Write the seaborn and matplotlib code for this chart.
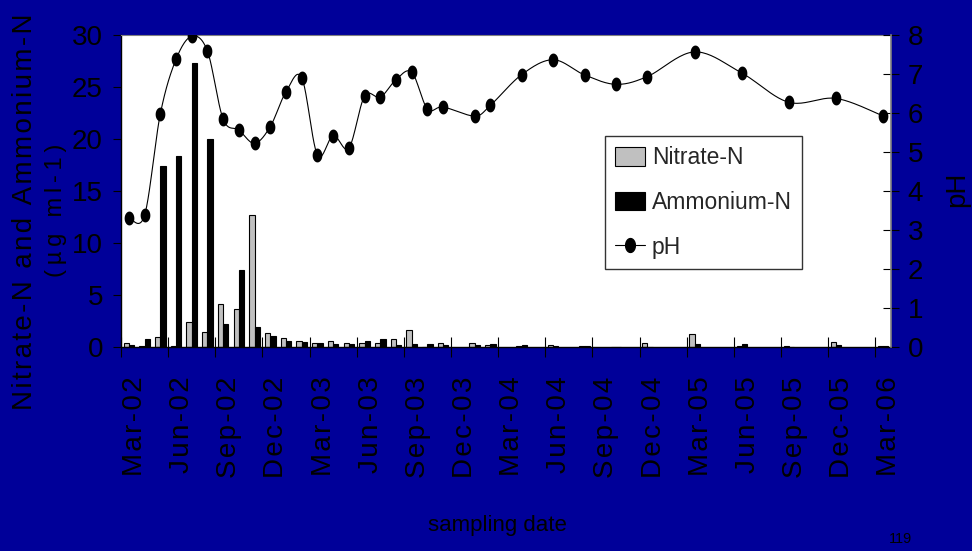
import numpy as np
import pandas as pd
import matplotlib
matplotlib.use("Agg")
import matplotlib.pyplot as plt
import matplotlib.transforms as mtransforms
from matplotlib.patches import Patch
from matplotlib.lines import Line2D
from matplotlib.path import Path
from matplotlib.markers import MarkerStyle
import seaborn as sns

# sampling months (monthly at first, later every 2-3 months)
sample_month = ["2002-03", "2002-04", "2002-05", "2002-06", "2002-07", "2002-08",
                "2002-09", "2002-10", "2002-11", "2002-12", "2003-01", "2003-02",
                "2003-03", "2003-04", "2003-05", "2003-06", "2003-07", "2003-08",
                "2003-09", "2003-10", "2003-11", "2004-01", "2004-02", "2004-04",
                "2004-06", "2004-08", "2004-10", "2004-12", "2005-03", "2005-06",
                "2005-09", "2005-12", "2006-03"]

# ug ml-1
nitrate = [0.38, 0.1, 1.0, 0.15, 2.4, 1.45, 4.15, 3.7, 12.65, 1.4, 0.9, 0.6,
           0.45, 0.65, 0.45, 0.45, 0.4, 0.75, 1.7, 0.05, 0.45, 0.45, 0.2, 0.1,
           0.25, 0.15, 0.0, 0.45, 1.25, 0.1, 0.15, 0.5, 0.1]
ammonium = [0.2, 0.8, 17.4, 18.4, 27.3, 20.0, 2.25, 7.4, 1.95, 1.05, 0.6, 0.55,
            0.4, 0.3, 0.3, 0.6, 0.75, 0.2, 0.35, 0.3, 0.2, 0.2, 0.3, 0.2,
            0.1, 0.1, 0.0, 0.05, 0.35, 0.35, 0.05, 0.25, 0.1]
ph = [3.32, 3.38, 5.97, 7.37, 7.96, 7.58, 5.84, 5.56, 5.22, 5.65, 6.54, 6.90,
      4.92, 5.42, 5.10, 6.43, 6.40, 6.85, 7.04, 6.10, 6.15, 5.92, 6.19, 6.98,
      7.36, 6.97, 6.73, 6.93, 7.56, 7.02, 6.27, 6.37, 5.92]

tick_labels = ["Mar-02", "Jun-02", "Sep-02", "Dec-02", "Mar-03", "Jun-03",
               "Sep-03", "Dec-03", "Mar-04", "Jun-04", "Sep-04", "Dec-04",
               "Mar-05", "Jun-05", "Sep-05", "Dec-05", "Mar-06"]

BLUE = "#000099"
GREY = "#C0C0C0"


def spaced(s, sep="\u200a"):
    # letter spaced text like on the slide
    return sep.join(s)


def smooth(x, y, steps=24):
    # bezier through the points, same idea as the "smoothed line" option
    x = np.asarray(x, float)
    y = np.asarray(y, float)
    n = len(x)
    t = np.linspace(0, 1, steps)
    xs, ys = [], []
    for i in range(n - 1):
        a = max(i - 1, 0)
        b = min(i + 2, n - 1)
        c1x = x[i] + (x[i + 1] - x[a]) / 6
        c1y = y[i] + (y[i + 1] - y[a]) / 6
        c2x = x[i + 1] - (x[b] - x[i]) / 6
        c2y = y[i + 1] - (y[b] - y[i]) / 6
        xs.append((1 - t) ** 3 * x[i] + 3 * (1 - t) ** 2 * t * c1x + 3 * (1 - t) * t ** 2 * c2x + t ** 3 * x[i + 1])
        ys.append((1 - t) ** 3 * y[i] + 3 * (1 - t) ** 2 * t * c1y + 3 * (1 - t) * t ** 2 * c2y + t ** 3 * y[i + 1])
    return np.concatenate(xs), np.concatenate(ys)


sns.set_style("ticks")
plt.rcParams["font.family"] = ["Liberation Sans", "DejaVu Sans"]

df = pd.DataFrame({"month": pd.to_datetime(sample_month),
                   "Nitrate-N": nitrate, "Ammonium-N": ammonium, "pH": ph})
# month slots counted from Mar-02, values sit in the middle of the slot
df["pos"] = (df["month"].dt.year - 2002) * 12 + (df["month"].dt.month - 3) + 0.5
long_df = df.melt(id_vars="pos", value_vars=["Nitrate-N", "Ammonium-N"],
                  var_name="series", value_name="conc")

fig = plt.figure(figsize=(9.72, 5.51), dpi=100, facecolor=BLUE)
ax = fig.add_axes([0.1245, 0.3697, 0.7922, 0.5673])
ax.set_facecolor("white")

sns.barplot(data=long_df, x="pos", y="conc", hue="series",
            hue_order=["Nitrate-N", "Ammonium-N"],
            palette={"Nitrate-N": GREY, "Ammonium-N": "black"},
            native_scale=True, dodge=True, width=2 / 3, saturation=1,
            errorbar=None, edgecolor="black", linewidth=0.8, legend=False, ax=ax)

ax.set_xlim(0, 49)
ax.set_ylim(0, 30)
ax.set_yticks(np.arange(0, 31, 5))
ax.set_xticks(np.arange(0, 49, 3))
ax.set_xticklabels([spaced(s) for s in tick_labels])
ax.set_xlabel("")
ax.set_ylabel("")
ax.tick_params(axis="y", direction="out", length=6, width=0.8, pad=7,
               labelsize=20, colors="black")
ax.tick_params(axis="x", direction="inout", length=14, width=0.8, pad=14,
               labelsize=20, labelrotation=90, colors="black")
# labels sit a bit right of their tick
shift = mtransforms.ScaledTranslation(0.14, 0, fig.dpi_scale_trans)
for lab in ax.get_xticklabels():
    lab.set_transform(lab.get_transform() + shift)

ax2 = ax.twinx()
sx, sy = smooth(df["pos"], df["pH"])
ax2.plot(sx, sy, color="black", lw=0.8, zorder=2)

theta = np.linspace(0, 2 * np.pi, 41)
ell = MarkerStyle(Path(np.column_stack([0.7 * np.cos(theta), np.sin(theta)]), closed=True))
sns.scatterplot(x=df["pos"], y=df["pH"], marker=ell, s=100, color="black",
                edgecolor="black", linewidth=0, ax=ax2, zorder=3)
ax2.set_ylim(0, 8)
ax2.set_yticks(np.arange(0, 9, 1))
ax2.set_xlabel("")
ax2.set_ylabel("")
ax2.tick_params(axis="y", direction="inout", length=11, width=0.8, pad=6.5,
                labelsize=20, colors="black")

for sp in ["left", "bottom"]:
    ax.spines[sp].set_color("black")
    ax.spines[sp].set_linewidth(1)
ax.spines["top"].set_color("#808080")
ax.spines["right"].set_visible(False)
for sp in ["left", "bottom", "top"]:
    ax2.spines[sp].set_visible(False)
ax2.spines["right"].set_color("#808080")
ax2.spines["right"].set_linewidth(1.2)

handles = [Patch(facecolor=GREY, edgecolor="black", lw=0.8),
           Patch(facecolor="black", edgecolor="black", lw=0.8),
           Line2D([], [], color="black", lw=0.8, marker=ell, markersize=10)]
leg = ax2.legend(handles, ["Nitrate-N", "Ammonium-N", "pH"],
                 loc="upper left", bbox_to_anchor=(605 / 972, 1 - 136 / 551),
                 bbox_transform=fig.transFigure, fontsize=16.5, frameon=True,
                 fancybox=False, framealpha=1, edgecolor="#333333",
                 borderpad=0.45, borderaxespad=0, labelspacing=0.95,
                 handlelength=1.3, handleheight=0.85, handletextpad=0.3)
leg.get_frame().set_linewidth(1)

fig.text(25 / 972, 1 - 212 / 551, spaced("Nitrate-N and Ammonium-N"),
         rotation=90, fontsize=20, ha="center", va="center", color="black")
fig.text(56 / 972, 1 - 210 / 551, spaced("(µg ml-1)", "\u2009"),
         rotation=90, fontsize=17, ha="center", va="center", color="black")
fig.text(957 / 972, 1 - 189 / 551, "pH", rotation=90, fontsize=20,
         ha="center", va="center", color="black")
fig.text(497 / 972, 1 - 526 / 551, "sampling date", fontsize=16,
         ha="center", va="center", color="black")
fig.text(900 / 972, 1 - 539 / 551, "119", fontsize=10.5,
         ha="center", va="center", color="black")

fig.savefig("out.png", dpi=100, facecolor=BLUE)
